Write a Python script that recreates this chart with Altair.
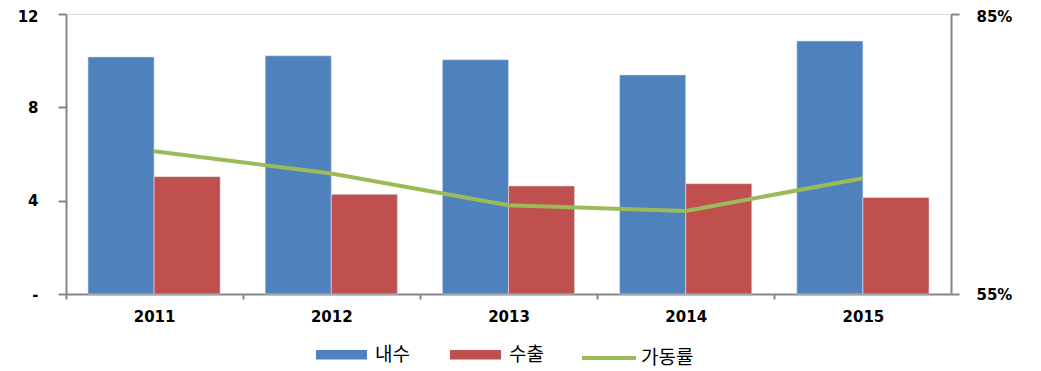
import altair as alt
import pandas as pd

years = ["2011", "2012", "2013", "2014", "2015"]
domestic = [10.16, 10.21, 10.04, 9.39, 10.84]   # 내수
export = [5.03, 4.27, 4.63, 4.73, 4.14]          # 수출
utilization = [0.703, 0.679, 0.645, 0.639, 0.674]  # 가동률
series = ["내수", "수출"]
line_name = "가동률"

bars = pd.DataFrame(
    [{"year": y, "series": series[0], "value": v} for y, v in zip(years, domestic)]
    + [{"year": y, "series": series[1], "value": v} for y, v in zip(years, export)]
)
line = pd.DataFrame({"year": years, "rate": utilization, "name": line_name})

NUM_FONT = "DejaVu Sans"
KO_FONT = "Noto Sans CJK KR"
AXIS_GRAY = "#868686"

x_enc = alt.X(
    "year:N",
    sort=years,
    title=None,
    scale=alt.Scale(paddingInner=0.254, paddingOuter=0.124),
    axis=alt.Axis(
        labelAngle=0,
        labelFont=NUM_FONT,
        labelFontSize=15,
        labelFontWeight="bold",
        labelColor="#000000",
        labelPadding=10,
        tickSize=5,
        tickWidth=2,
        tickColor=AXIS_GRAY,
        domainColor=AXIS_GRAY,
        domainWidth=2,
        tickOffset=-88.5,
        labelOffset=88.5,
        grid=False,
    ),
)

bar = alt.Chart(bars).mark_bar(stroke="#d9e3f0", strokeWidth=0.6).encode(
    x=x_enc,
    xOffset=alt.XOffset("series:N", sort=series, scale=alt.Scale(domain=series)),
    y=alt.Y(
        "value:Q",
        title=None,
        scale=alt.Scale(domain=[0, 12], nice=False, zero=True),
        axis=alt.Axis(
            values=[0, 4, 8, 12],
            labelExpr="datum.value == 0 ? '-' : datum.label",
            labelFont=NUM_FONT,
            labelFontSize=15,
            labelFontWeight="bold",
            labelColor="#000000",
            labelPadding=20,
            labelOffset={"condition": {"test": "datum.value == 12", "value": 2}, "value": 0},
            tickSize=8,
            tickWidth=2,
            tickColor=AXIS_GRAY,
            domainColor=AXIS_GRAY,
            domainWidth=2,
            grid=False,
        ),
    ),
    color=alt.Color(
        "series:N",
        sort=series,
        scale=alt.Scale(domain=series, range=["#4F81BD", "#C0504D"]),
        legend=alt.Legend(
            title=None,
            orient="none",
            legendX=250,
            legendY=315,
            direction="horizontal",
            symbolType="M-1,-0.19H1V0.19H-1Z",
            symbolSize=2601,
            symbolStrokeWidth=0,
            labelFont=KO_FONT,
            labelFontSize=19,
            labelColor="#000000",
            labelOffset=8,
            columnPadding=40,
        ),
    ),
)

ln = alt.Chart(line).mark_line(strokeWidth=4).encode(
    x=alt.X("year:N", sort=years),
    y=alt.Y(
        "rate:Q",
        title=None,
        scale=alt.Scale(domain=[0.55, 0.85], nice=False, zero=False),
        axis=alt.Axis(
            orient="right",
            values=[0.55, 0.85],
            format=".0%",
            labelFont=NUM_FONT,
            labelFontSize=15,
            labelFontWeight="bold",
            labelColor="#000000",
            labelPadding=17,
            labelOffset={"condition": {"test": "datum.value > 0.8", "value": 2}, "value": 0},
            tickSize=8,
            tickWidth=2,
            tickColor=AXIS_GRAY,
            domainColor=AXIS_GRAY,
            domainWidth=2,
            grid=False,
        ),
    ),
    stroke=alt.Stroke(
        "name:N",
        scale=alt.Scale(domain=[line_name], range=["#9BBB59"]),
        legend=alt.Legend(
            title=None,
            orient="none",
            legendX=514,
            legendY=315,
            symbolType="M-1,0H1",
            symbolSize=2916,
            symbolStrokeWidth=4,
            labelFont=KO_FONT,
            labelFontSize=19,
            labelColor="#000000",
            labelOffset=3,
        ),
    ),
)

chart = (
    alt.layer(bar, ln)
    .resolve_scale(y="independent", color="independent", stroke="independent")
    .properties(
        width=885,
        height=280,
        autosize=alt.AutoSizeParams(type="none"),
        padding={"left": 58, "top": 6, "right": 82, "bottom": 77},
    )
    .configure_view(stroke=None)
    .configure(background="#ffffff")
)

chart.save("out.html", embed_options={"renderer": "svg", "actions": False})
